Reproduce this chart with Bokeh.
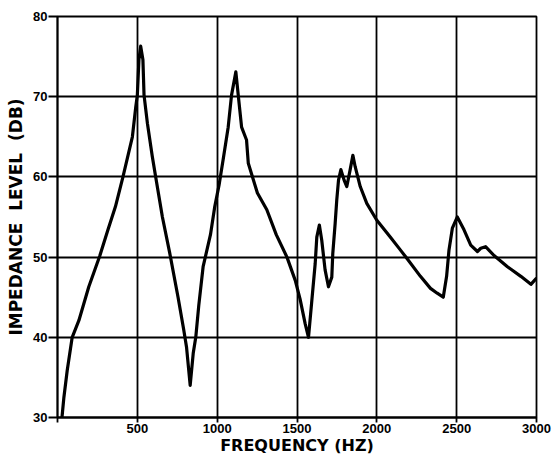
from bokeh.plotting import figure
from bokeh.models import FixedTicker, Range1d
from bokeh.embed import file_html
from bokeh.resources import INLINE

# Impedance level versus frequency
freq_hz = [28, 40, 61, 92, 134, 196, 264, 316, 363, 410, 469, 490, 500, 510, 521,
           535, 542, 563, 594, 615, 657, 703, 755, 790, 808, 831, 850, 866, 885,
           912, 920, 958, 985, 1012, 1037, 1069, 1090, 1117, 1132, 1153, 1184,
           1195, 1252, 1311, 1370, 1437, 1489, 1519, 1551, 1572, 1593, 1614, 1624,
           1640, 1655, 1676, 1697, 1718, 1724, 1739, 1749, 1760, 1775, 1795, 1812,
           1833, 1850, 1864, 1896, 1937, 2000, 2084, 2147, 2190, 2273, 2336, 2378,
           2416, 2437, 2452, 2473, 2504, 2546, 2588, 2630, 2651, 2681, 2734, 2818,
           2902, 2965, 2996]
level_db = [30.0, 32.5, 35.9, 40.0, 42.1, 46.3, 50.1, 53.4, 56.3, 60.0, 65.0, 68.7,
            70.2, 74.6, 76.3, 74.6, 70.2, 66.7, 62.5, 60.0, 55.0, 50.5, 45.0, 41.0,
            38.8, 34.0, 38.0, 40.0, 44.0, 48.8, 49.5, 52.8, 56.3, 59.0, 62.1, 66.2,
            70.2, 73.1, 70.2, 66.2, 64.6, 61.7, 58.0, 55.9, 52.8, 50.0, 47.1, 44.8,
            41.7, 40.0, 44.6, 49.2, 52.5, 54.0, 52.1, 48.4, 46.3, 47.5, 50.4, 54.2,
            57.1, 59.6, 60.9, 59.6, 58.8, 60.9, 62.7, 61.3, 58.8, 56.7, 54.6, 52.5,
            50.9, 49.8, 47.6, 46.1, 45.5, 45.0, 47.6, 50.9, 53.6, 55.0, 53.4, 51.5,
            50.7, 51.1, 51.3, 50.2, 48.8, 47.6, 46.6, 47.3]

x_ticks = [0, 500, 1000, 1500, 2000, 2500, 3000]
x_tick_labels = {0: ""}
y_ticks = [30, 40, 50, 60, 70, 80]

TICK_FONT = "Liberation Sans"
LABEL_FONT = "DejaVu Sans"
NB = "\u00a0"

p = figure(width=554, height=457, output_backend="svg", toolbar_location=None,
           x_range=Range1d(0, 3000), y_range=Range1d(30, 80),
           min_border_left=57, min_border_right=18, min_border_top=16,
           min_border_bottom=40)

p.line(freq_hz, level_db, line_color="black", line_width=3.2,
       line_join="round", line_cap="round")

p.outline_line_color = "black"
p.outline_line_width = 1.8

for ax, ticks in ((p.xaxis, x_ticks), (p.yaxis, y_ticks)):
    ax.ticker = FixedTicker(ticks=ticks)
    ax.minor_tick_line_color = None
    ax.axis_line_color = "black"
    ax.axis_line_width = 1.8
    ax.major_tick_line_color = "black"
    ax.major_tick_line_width = 1.8
    ax.major_tick_in = 0
    ax.major_label_text_font = TICK_FONT
    ax.major_label_text_font_size = "13px"
    ax.major_label_text_font_style = "bold"
    ax.major_label_text_color = "black"
    ax.axis_label_text_font = LABEL_FONT
    ax.axis_label_text_font_style = "bold"
    ax.axis_label_text_color = "black"

p.xaxis.major_label_overrides = x_tick_labels
p.xaxis.major_tick_out = 5
p.yaxis.major_tick_out = 9
p.xaxis.axis_label = "FREQUENCY (HZ)"
p.xaxis.axis_label_text_font_size = "16px"
p.yaxis.axis_label = f"IMPEDANCE{NB}{NB}LEVEL{NB}{NB}(DB)"
p.yaxis.axis_label_text_font_size = "17px"
p.xaxis.major_label_standoff = 1
p.xaxis.axis_label_standoff = 0
p.yaxis.major_label_standoff = 1
p.yaxis.axis_label_standoff = 4

for g in (p.xgrid, p.ygrid):
    g.grid_line_color = "black"
    g.grid_line_width = 1.8
    g.grid_line_alpha = 1.0
p.xgrid.ticker = FixedTicker(ticks=x_ticks)
p.ygrid.ticker = FixedTicker(ticks=y_ticks)

open("out.html", "w").write(file_html(p, INLINE))
